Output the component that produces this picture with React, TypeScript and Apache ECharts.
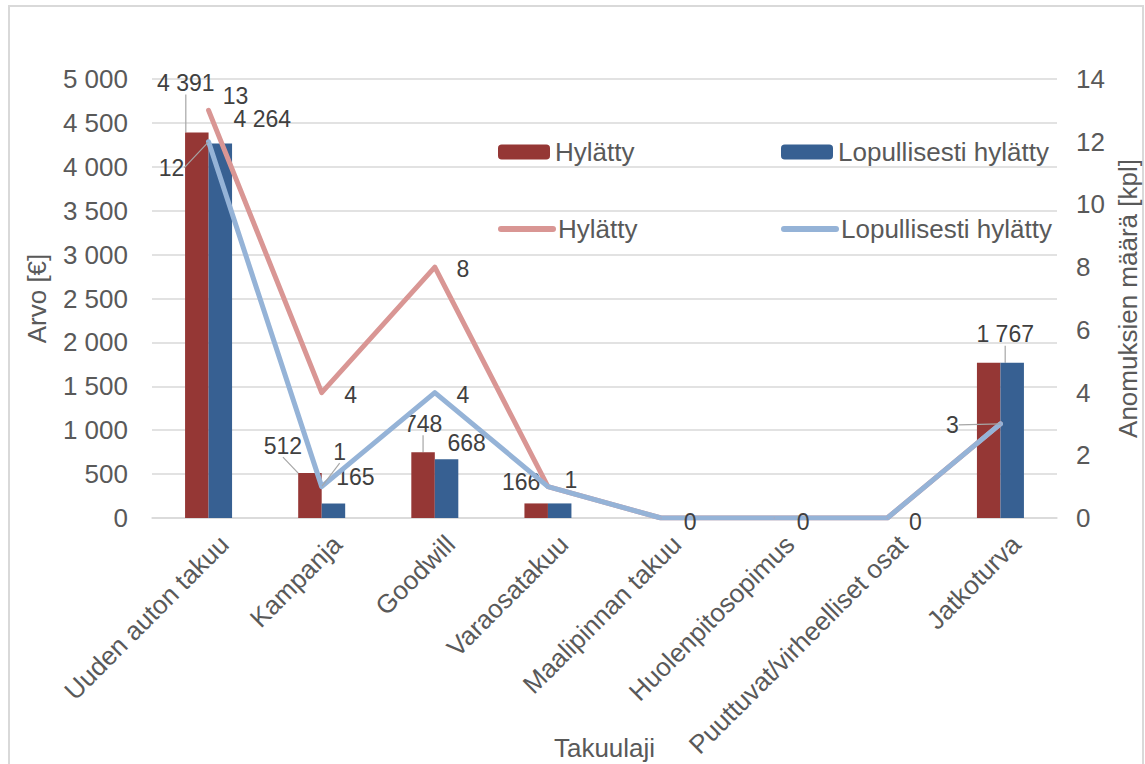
import React, { useEffect, useRef } from "react";
import * as echarts from "echarts";

// Warranty types (x axis)
const categories = [
  "Uuden auton takuu",
  "Kampanja",
  "Goodwill",
  "Varaosatakuu",
  "Maalipinnan takuu",
  "Huolenpitosopimus",
  "Puuttuvat/virheelliset osat",
  "Jatkoturva",
];

// Value in euros (left axis, bars)
const valueRejected = [4391, 512, 748, 166, 0, 0, 0, 1767];
const valueFinallyRejected = [4264, 165, 668, 166, 0, 0, 0, 1767];

// Number of claims (right axis, lines)
const countRejected = [13, 4, 8, 1, 0, 0, 0, 3];
const countFinallyRejected = [12, 1, 4, 1, 0, 0, 0, 3];

// Axis scales
const leftMax = 5000;
const leftStep = 500;
const rightMax = 14;
const rightStep = 2;

const FONT = 'Arial, "Liberation Sans", sans-serif';
const AXIS_TEXT = "#595959";
const LABEL_TEXT = "#404040";
const GRID_LINE = "#d9d9d9";
const RED_BAR = "#953735";
const BLUE_BAR = "#376092";
const RED_LINE = "#d99694";
const BLUE_LINE = "#95b3d7";

// Label nudges per data point: [dx, dy, leader line]; null hides the label
type Nudge = [number, number, boolean] | null;
const redBarNudge: Nudge[] = [[-11, -33, true], [-27, -11, true], [0, -12, true], [-15, -5, false], null, null, null, null];
const blueBarNudge: Nudge[] = [[42, -8, false], [22, -10, false], [20, 0, false], null, null, null, null, [-7, -12, true]];
const redLineNudge: Nudge[] = [[27, -14, false], [29, 2, false], [28, 2, false], null, null, null, null, null];
const blueLineNudge: Nudge[] = [[-37, 26, true], [18, -35, true], [28, 2, false], [23, -7, false], [29, 4, false], [29, 4, false], [28, 4, false], [-48, 1, true]];

const spaced = (v: number) => String(v).replace(/\B(?=(\d{3})+(?!\d))/g, " ");

const withLabels = (values: number[], nudges: Nudge[]) =>
  values.map((v, i) => ({
    value: v,
    label: { show: !!nudges[i] },
    labelLine: { show: !!(nudges[i] && nudges[i]![2]) },
  }));

const layoutFrom = (nudges: Nudge[]) => (params: any) => {
  const n = nudges[params.dataIndex];
  return n ? { dx: n[0], dy: n[1] } : {};
};

const leaderLine = { lineStyle: { color: "#a6a6a6", width: 1.2 } };

export default function App() {
  const ref = useRef<HTMLDivElement>(null);

  useEffect(() => {
    if (!ref.current) return;
    const chart = echarts.init(ref.current, undefined, { renderer: "svg" });

    const legendBase = {
      orient: "horizontal" as const,
      padding: 0,
      itemGap: 0,
      textStyle: { fontSize: 26, color: AXIS_TEXT, fontFamily: FONT },
    };
    const lineLegend = {
      ...legendBase,
      itemWidth: 52,
      itemHeight: 6,
      lineStyle: { width: 6, cap: "round" },
      itemStyle: { opacity: 0 },
    };

    chart.setOption({
      animation: false,
      backgroundColor: "#ffffff",
      textStyle: { fontFamily: FONT },
      graphic: [
        {
          type: "rect",
          x: 9,
          y: 6,
          shape: { x: 0, y: 0, width: 1134, height: 800 },
          style: { fill: "none", stroke: GRID_LINE, lineWidth: 2 },
          silent: true,
          z: -10,
        },
      ],
      legend: [
        { ...legendBase, data: ["bar-rejected"], left: 498, top: 139, itemWidth: 52, itemHeight: 15, formatter: () => "Hylätty" },
        { ...legendBase, data: ["bar-final"], left: 781, top: 139, itemWidth: 52, itemHeight: 15, formatter: () => "Lopullisesti hylätty" },
        { ...lineLegend, data: ["line-rejected"], left: 498, top: 216, formatter: () => "Hylätty" },
        { ...lineLegend, data: ["line-final"], left: 781, top: 216, formatter: () => "Lopullisesti hylätty" },
      ],
      grid: { left: 152, right: 88, top: 79, bottom: 246, containLabel: false, outerBoundsMode: "none" },
      xAxis: {
        type: "category",
        data: categories,
        axisLine: { lineStyle: { color: GRID_LINE, width: 1.5 } },
        axisTick: { show: false },
        axisLabel: {
          interval: 0,
          rotate: 45,
          fontSize: 26,
          color: AXIS_TEXT,
          margin: 19,
          verticalAlign: "top",
          padding: [0, -9, 0, 0],
        },
        name: "Takuulaji",
        nameLocation: "middle",
        nameGap: 217,
        nameMoveOverlap: false,
        nameTextStyle: { fontSize: 26, color: AXIS_TEXT },
      },
      yAxis: [
        {
          type: "value",
          min: 0,
          max: leftMax,
          interval: leftStep,
          axisLine: { show: false },
          axisTick: { show: false },
          splitLine: { lineStyle: { color: GRID_LINE, width: 1.5 } },
          axisLabel: { fontSize: 26, color: AXIS_TEXT, margin: 24, formatter: (v: number) => spaced(v) },
          name: "Arvo [€]",
          nameLocation: "middle",
          nameGap: 102,
          nameRotate: 90,
          nameMoveOverlap: false,
          nameTextStyle: { fontSize: 26, color: AXIS_TEXT },
        },
        {
          type: "value",
          min: 0,
          max: rightMax,
          interval: rightStep,
          position: "right",
          axisLine: { show: false },
          axisTick: { show: false },
          splitLine: { show: false },
          axisLabel: { fontSize: 26, color: AXIS_TEXT, margin: 19 },
          name: "Anomuksien määrä [kpl]",
          nameLocation: "middle",
          nameGap: 58,
          nameRotate: 90,
          nameMoveOverlap: false,
          nameTextStyle: { fontSize: 26, color: AXIS_TEXT },
        },
      ],
      series: [
        {
          name: "bar-rejected",
          type: "bar",
          yAxisIndex: 0,
          barWidth: 23.5,
          barGap: "0%",
          itemStyle: { color: RED_BAR },
          data: withLabels(valueRejected, redBarNudge),
          label: { position: "top", distance: 5, fontSize: 23, color: LABEL_TEXT, formatter: (p: any) => spaced(p.value) },
          labelLine: leaderLine,
          labelLayout: layoutFrom(redBarNudge),
        },
        {
          name: "bar-final",
          type: "bar",
          yAxisIndex: 0,
          barWidth: 23.5,
          barGap: "0%",
          itemStyle: { color: BLUE_BAR },
          data: withLabels(valueFinallyRejected, blueBarNudge),
          label: { position: "top", distance: 5, fontSize: 23, color: LABEL_TEXT, formatter: (p: any) => spaced(p.value) },
          labelLine: leaderLine,
          labelLayout: layoutFrom(blueBarNudge),
        },
        {
          name: "line-rejected",
          type: "line",
          yAxisIndex: 1,
          symbol: "circle",
          symbolSize: 1,
          showSymbol: true,
          itemStyle: { color: RED_LINE },
          lineStyle: { color: RED_LINE, width: 5, cap: "round", join: "round" },
          data: withLabels(countRejected, redLineNudge),
          label: { position: "inside", fontSize: 23, color: LABEL_TEXT },
          labelLine: leaderLine,
          labelLayout: layoutFrom(redLineNudge),
        },
        {
          name: "line-final",
          type: "line",
          yAxisIndex: 1,
          symbol: "circle",
          symbolSize: 1,
          showSymbol: true,
          itemStyle: { color: BLUE_LINE },
          lineStyle: { color: BLUE_LINE, width: 5, cap: "round", join: "round" },
          data: withLabels(countFinallyRejected, blueLineNudge),
          label: { position: "inside", fontSize: 23, color: LABEL_TEXT },
          labelLine: leaderLine,
          labelLayout: layoutFrom(blueLineNudge),
        },
      ],
    });

    return () => chart.dispose();
  }, []);

  return (
    <div
      ref={ref}
      style={{ position: "absolute", left: 0, top: 0, width: 1145, height: 764, background: "#fff" }}
    />
  );
}
